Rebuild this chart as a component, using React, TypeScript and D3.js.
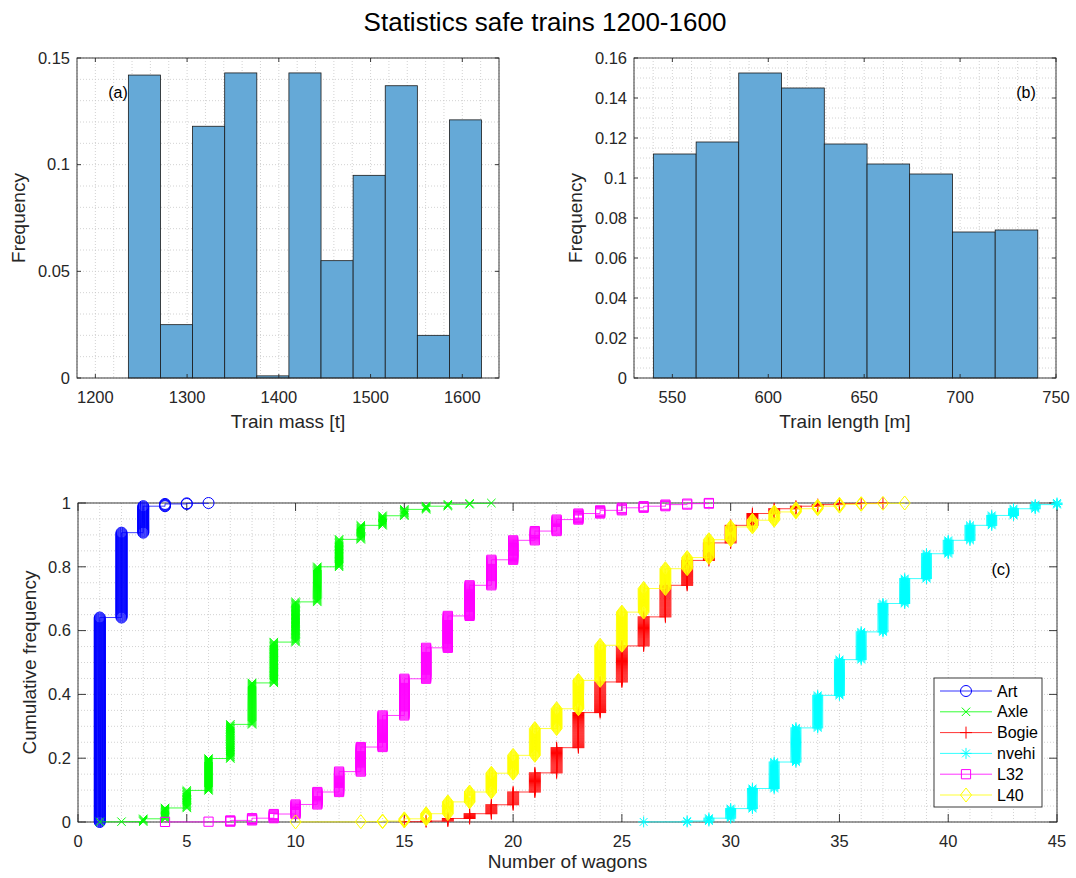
import React from "react";
import * as d3 from "d3";

// ---------------- data ----------------
const titleText = "Statistics safe trains 1200-1600";

const massBinEdges = [1236, 1271, 1306, 1341, 1376, 1411, 1446, 1481, 1516, 1551, 1586, 1621];
const massFreq = [0.142, 0.025, 0.118, 0.143, 0.001, 0.143, 0.055, 0.095, 0.137, 0.02, 0.121];
const massTicks = [1200, 1300, 1400, 1500, 1600];
const massMinor = [1180, 1220, 1240, 1260, 1280, 1320, 1340, 1360, 1380, 1420, 1440, 1460, 1480, 1520, 1540, 1560, 1580, 1620, 1640];
const freqTicksA = [0, 0.05, 0.1, 0.15];
const freqTickLabelsA = ["0", "0.05", "0.1", "0.15"];
const freqMinorA = [0.01, 0.02, 0.03, 0.04, 0.06, 0.07, 0.08, 0.09, 0.11, 0.12, 0.13, 0.14];

const lengthBinEdges = [540.1, 562.4, 584.6, 606.9, 629.2, 651.5, 673.7, 696.0, 718.3, 740.5];
const lengthFreq = [0.112, 0.118, 0.1525, 0.145, 0.117, 0.107, 0.102, 0.073, 0.074];
const lengthTicks = [550, 600, 650, 700, 750];
const lengthMinor = [530, 540, 560, 570, 580, 590, 610, 620, 630, 640, 660, 670, 680, 690, 710, 720, 730, 740];
const freqTicksB = [0, 0.02, 0.04, 0.06, 0.08, 0.1, 0.12, 0.14, 0.16];
const freqTickLabelsB = ["0", "0.02", "0.04", "0.06", "0.08", "0.1", "0.12", "0.14", "0.16"];
const freqMinorB = [0.005, 0.01, 0.015, 0.025, 0.03, 0.035, 0.045, 0.05, 0.055, 0.065, 0.07, 0.075, 0.085, 0.09, 0.095, 0.105, 0.11, 0.115, 0.125, 0.13, 0.135, 0.145, 0.15, 0.155];

const wagonTicks = [0, 5, 10, 15, 20, 25, 30, 35, 40, 45];
const wagonMinor = [1, 2, 3, 4, 6, 7, 8, 9, 11, 12, 13, 14, 16, 17, 18, 19, 21, 22, 23, 24, 26, 27, 28, 29, 31, 32, 33, 34, 36, 37, 38, 39, 41, 42, 43, 44];
const cumTicks = [0, 0.2, 0.4, 0.6, 0.8, 1];
const cumMinor = [0.05, 0.1, 0.15, 0.25, 0.3, 0.35, 0.45, 0.5, 0.55, 0.65, 0.7, 0.75, 0.85, 0.9, 0.95];

const artWagons = [1, 2, 3, 4, 5, 6];
const artCum = [0.641, 0.907, 0.99, 0.997, 0.999, 1.0];

const axleWagons = [1, 2, 3, 4, 5, 6, 7, 8, 9, 10, 11, 12, 13, 14, 15, 16, 17, 18, 19];
const axleCum = [0.0005, 0.001, 0.01, 0.044, 0.099, 0.199, 0.306, 0.436, 0.564, 0.69, 0.8, 0.886, 0.93, 0.96, 0.98, 0.99, 0.996, 0.999, 1.0];

const bogieWagons = [15, 16, 17, 18, 19, 20, 21, 22, 23, 24, 25, 26, 27, 28, 29, 30, 31, 32, 33, 34, 35, 36, 37];
const bogieCum = [0.001, 0.003, 0.011, 0.026, 0.054, 0.094, 0.154, 0.233, 0.343, 0.439, 0.552, 0.643, 0.742, 0.82, 0.875, 0.93, 0.967, 0.982, 0.99, 0.995, 0.998, 0.999, 1.0];

const nvehiWagons = [26, 28, 29, 30, 31, 32, 33, 34, 35, 36, 37, 38, 39, 40, 41, 42, 43, 44, 45];
const nvehiCum = [0.0003, 0.003, 0.012, 0.042, 0.105, 0.188, 0.295, 0.397, 0.509, 0.596, 0.685, 0.763, 0.841, 0.883, 0.93, 0.961, 0.982, 0.995, 1.0];

const l32Wagons = [4, 6, 7, 8, 9, 10, 11, 12, 13, 14, 15, 16, 17, 18, 19, 20, 21, 22, 23, 24, 25, 26, 27, 28, 29];
const l32Cum = [0.0003, 0.001, 0.005, 0.012, 0.025, 0.055, 0.094, 0.158, 0.235, 0.334, 0.449, 0.546, 0.646, 0.742, 0.822, 0.883, 0.912, 0.948, 0.967, 0.977, 0.985, 0.99, 0.995, 0.998, 1.0];

const l40Wagons = [10, 13, 14, 15, 16, 17, 18, 19, 20, 21, 22, 23, 24, 25, 26, 27, 28, 29, 30, 31, 32, 33, 34, 35, 36, 37, 38];
const l40Cum = [0.0003, 0.001, 0.003, 0.01, 0.026, 0.063, 0.094, 0.153, 0.209, 0.293, 0.355, 0.444, 0.554, 0.658, 0.732, 0.794, 0.829, 0.885, 0.925, 0.946, 0.972, 0.982, 0.99, 0.996, 0.998, 0.999, 1.0];

const seriesNames = ["Art", "Axle", "Bogie", "nvehi", "L32", "L40"];
const seriesX = [artWagons, axleWagons, bogieWagons, nvehiWagons, l32Wagons, l40Wagons];
const seriesY = [artCum, axleCum, bogieCum, nvehiCum, l32Cum, l40Cum];

// ---------------- styles ----------------
const seriesColors = ["#0000ff", "#00ff00", "#ff0000", "#00ffff", "#ff00ff", "#ffff00"];
const seriesMarkers = ["o", "x", "+", "*", "s", "d"];
const FONT = "'Liberation Sans', Arial, Helvetica, sans-serif";
const TXT = "#262626";
const BAR_FILL = "#65a9d7";
const TICK_FS = 16.5;
const LABEL_FS = 19;

function markerPath(m: string, cx: number, cy: number): string {
  switch (m) {
    case "o": {
      const r = 5.5;
      return `M${cx + r},${cy}A${r},${r} 0 1,0 ${cx - r},${cy}A${r},${r} 0 1,0 ${cx + r},${cy}`;
    }
    case "x": {
      const a = 4.2;
      return `M${cx - a},${cy - a}L${cx + a},${cy + a}M${cx - a},${cy + a}L${cx + a},${cy - a}`;
    }
    case "+": {
      const a = 6;
      return `M${cx - a},${cy}L${cx + a},${cy}M${cx},${cy - a}L${cx},${cy + a}`;
    }
    case "*": {
      const a = 5.5;
      const b = 3.9;
      return `M${cx - a},${cy}L${cx + a},${cy}M${cx},${cy - a}L${cx},${cy + a}M${cx - b},${cy - b}L${cx + b},${cy + b}M${cx - b},${cy + b}L${cx + b},${cy - b}`;
    }
    case "s": {
      const a = 4.6;
      return `M${cx - a},${cy - a}L${cx + a},${cy - a}L${cx + a},${cy + a}L${cx - a},${cy + a}Z`;
    }
    case "d": {
      const w = 5.5;
      const h = 7;
      return `M${cx},${cy - h}L${cx + w},${cy}L${cx},${cy + h}L${cx - w},${cy}Z`;
    }
  }
  return "";
}

type Box = { left: number; right: number; top: number; bottom: number };

function Grid({ box, xs, ys, xScale, yScale }: any) {
  return (
    <g>
      {xs.map((v: number, i: number) => (
        <line key={"gx" + i} x1={xScale(v)} x2={xScale(v)} y1={box.top} y2={box.bottom}
          stroke="#c6c6c6" strokeWidth={0.8} strokeDasharray="1,2" />
      ))}
      {ys.map((v: number, i: number) => (
        <line key={"gy" + i} x1={box.left} x2={box.right} y1={yScale(v)} y2={yScale(v)}
          stroke="#c6c6c6" strokeWidth={0.8} strokeDasharray="1,2" />
      ))}
    </g>
  );
}

function Frame({ box, xTicks, xLabels, yTicks, yLabels, xScale, yScale, tickLen, xLabelDy }: any) {
  return (
    <g>
      <rect x={box.left} y={box.top} width={box.right - box.left} height={box.bottom - box.top}
        fill="none" stroke={TXT} strokeWidth={0.9} />
      {xTicks.map((v: number, i: number) => {
        const x = xScale(v);
        return (
          <g key={"xt" + i}>
            <line x1={x} x2={x} y1={box.bottom} y2={box.bottom - tickLen} stroke={TXT} strokeWidth={0.9} />
            <line x1={x} x2={x} y1={box.top} y2={box.top + tickLen} stroke={TXT} strokeWidth={0.9} />
            <text x={x} y={box.bottom + xLabelDy} textAnchor="middle" fontSize={TICK_FS} fill={TXT} fontFamily={FONT}>
              {xLabels[i]}
            </text>
          </g>
        );
      })}
      {yTicks.map((v: number, i: number) => {
        const y = yScale(v);
        return (
          <g key={"yt" + i}>
            <line x1={box.left} x2={box.left + tickLen} y1={y} y2={y} stroke={TXT} strokeWidth={0.9} />
            <line x1={box.right} x2={box.right - tickLen} y1={y} y2={y} stroke={TXT} strokeWidth={0.9} />
            <text x={box.left - 7} y={y + 5.8} textAnchor="end" fontSize={TICK_FS} fill={TXT} fontFamily={FONT}>
              {yLabels[i]}
            </text>
          </g>
        );
      })}
    </g>
  );
}

function Histogram({ box, domain, edges, freq, yMax, xTicks, xMinor, yTicks, yLabels, yMinor, xLabel, tag, tagX }: any) {
  const xScale = d3.scaleLinear().domain(domain).range([box.left, box.right]);
  const yScale = d3.scaleLinear().domain([0, yMax]).range([box.bottom, box.top]);
  return (
    <g>
      <rect x={box.left} y={box.top} width={box.right - box.left} height={box.bottom - box.top} fill="#fff" />
      <Grid box={box} xs={[...xTicks, ...xMinor]} ys={[...yTicks, ...yMinor]} xScale={xScale} yScale={yScale} />
      {freq.map((f: number, i: number) => (
        <rect key={i} x={xScale(edges[i])} y={yScale(f)} width={xScale(edges[i + 1]) - xScale(edges[i])}
          height={yScale(0) - yScale(f)} fill={BAR_FILL} stroke="#1a1a1a" strokeWidth={0.8} />
      ))}
      <Frame box={box} xTicks={xTicks} xLabels={xTicks.map(String)} yTicks={yTicks} yLabels={yLabels}
        xScale={xScale} yScale={yScale} tickLen={4} xLabelDy={25} />
      <text x={(box.left + box.right) / 2} y={box.bottom + 50} textAnchor="middle" fontSize={LABEL_FS} fill={TXT} fontFamily={FONT}>
        {xLabel}
      </text>
      <text transform={`translate(${box.left - 52},${(box.top + box.bottom) / 2}) rotate(-90)`} textAnchor="middle"
        fontSize={LABEL_FS} fill={TXT} fontFamily={FONT}>
        Frequency
      </text>
      <text x={tagX} y={box.top + 40} textAnchor="middle" fontSize={16} fill="#000" fontFamily={FONT}>
        {tag}
      </text>
    </g>
  );
}

function Cumulative({ box }: { box: Box }) {
  const xScale = d3.scaleLinear().domain([0, 45]).range([box.left, box.right]);
  const yScale = d3.scaleLinear().domain([0, 1]).range([box.bottom, box.top]);
  const line = d3.line<[number, number]>().x((d) => xScale(d[0])).y((d) => yScale(d[1]));

  const series = seriesNames.map((name, si) => {
    const xs = seriesX[si];
    const ys = seriesY[si];
    const pts: [number, number][] = [];
    const stacks: string[] = [];
    xs.forEach((x, i) => {
      const bottom = i === 0 ? 0 : ys[i - 1];
      const top = ys[i];
      pts.push([x, bottom]);
      pts.push([x, top]);
      const cx = xScale(x);
      const yb = yScale(bottom);
      const yt = yScale(top);
      const span = yb - yt;
      let d = "";
      if (span < 0.6) {
        d = markerPath(seriesMarkers[si], cx, yt);
      } else {
        const n = Math.ceil(span);
        d3.range(n + 1).forEach((k) => {
          d += markerPath(seriesMarkers[si], cx, yb - (k * span) / n);
        });
      }
      stacks.push(d);
    });
    return { name, pts, stacks, color: seriesColors[si] };
  });

  return (
    <g>
      <rect x={box.left} y={box.top} width={box.right - box.left} height={box.bottom - box.top} fill="#fff" />
      <Grid box={box} xs={[...wagonTicks, ...wagonMinor]} ys={[...cumTicks, ...cumMinor]} xScale={xScale} yScale={yScale} />
      <Frame box={box} xTicks={wagonTicks} xLabels={wagonTicks.map(String)} yTicks={cumTicks} yLabels={cumTicks.map(String)}
        xScale={xScale} yScale={yScale} tickLen={8} xLabelDy={25} />
      {series.map((s, si) => (
        <g key={si}>
          <path d={line(s.pts) || ""} fill="none" stroke={s.color} strokeWidth={1} strokeOpacity={0.75} />
          {s.stacks.map((d, k) => (
            <path key={k} d={d} fill="none" stroke={s.color} strokeWidth={1} />
          ))}
        </g>
      ))}
      <text x={(box.left + box.right) / 2} y={box.bottom + 46} textAnchor="middle" fontSize={LABEL_FS} fill={TXT} fontFamily={FONT}>
        Number of wagons
      </text>
      <text transform={`translate(${box.left - 42},${(box.top + box.bottom) / 2}) rotate(-90)`} textAnchor="middle"
        fontSize={LABEL_FS} fill={TXT} fontFamily={FONT}>
        Cumulative frequency
      </text>
      <text x={1001} y={575} textAnchor="middle" fontSize={16.5} fill="#000" fontFamily={FONT}>(c)</text>
      {/* legend */}
      <g>
        <rect x={934} y={678} width={108} height={129} fill="#fff" stroke={TXT} strokeWidth={0.9} />
        {series.map((s, si) => {
          const y = 691 + si * 20.8;
          return (
            <g key={"lg" + si}>
              <line x1={940} x2={992} y1={y} y2={y} stroke={s.color} strokeWidth={1} strokeOpacity={0.8} />
              <path d={markerPath(seriesMarkers[si], 966, y)} fill="none" stroke={s.color} strokeWidth={1} />
              <text x={997} y={y + 5.5} fontSize={16} fill="#000" fontFamily={FONT}>{s.name}</text>
            </g>
          );
        })}
      </g>
    </g>
  );
}

export default function App() {
  const boxA: Box = { left: 77, right: 499, top: 58, bottom: 378 };
  const boxB: Box = { left: 634, right: 1056, top: 58, bottom: 378 };
  const boxC: Box = { left: 78, right: 1057, top: 503, bottom: 822 };
  return (
    <svg width={1076} height={878} style={{ position: "absolute", left: 0, top: 0, background: "#fff" }}
      xmlns="http://www.w3.org/2000/svg">
      <rect x={0} y={0} width={1076} height={878} fill="#fff" />
      <text x={545} y={31} textAnchor="middle" fontSize={26} fill="#000" fontFamily={FONT}>{titleText}</text>
      <Histogram box={boxA} domain={[1180, 1640]} edges={massBinEdges} freq={massFreq} yMax={0.15}
        xTicks={massTicks} xMinor={massMinor} yTicks={freqTicksA} yLabels={freqTickLabelsA} yMinor={freqMinorA}
        xLabel="Train mass [t]" tag="(a)" tagX={118} />
      <Histogram box={boxB} domain={[530, 750]} edges={lengthBinEdges} freq={lengthFreq} yMax={0.16}
        xTicks={lengthTicks} xMinor={lengthMinor} yTicks={freqTicksB} yLabels={freqTickLabelsB} yMinor={freqMinorB}
        xLabel="Train length [m]" tag="(b)" tagX={1026} />
      <Cumulative box={boxC} />
    </svg>
  );
}
